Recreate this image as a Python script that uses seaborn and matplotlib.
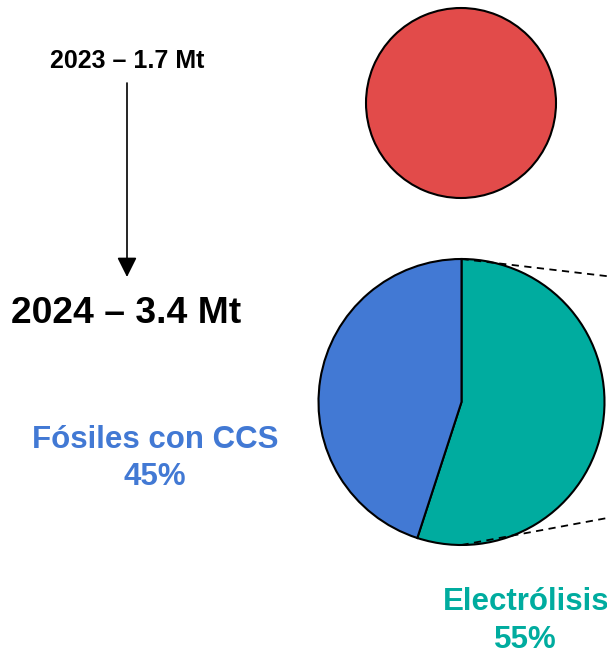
import matplotlib
matplotlib.use("Agg")
import matplotlib.pyplot as plt
import seaborn as sns
from matplotlib.patches import FancyArrowPatch

# Hydrogen production totals (Mt) and the 2024 split by route
years = ["2023", "2024"]
totals_mt = [1.7, 3.4]
routes = ["Electrólisis", "Fósiles con CCS"]
shares = [55, 45]

sns.set_theme(style="white")
plt.rcParams["font.family"] = ["Liberation Sans", "DejaVu Sans"]

red = "#E24B4A"
teal = "#00AC9F"
blue = "#4279D4"

W, H = 607, 651
fig = plt.figure(figsize=(W / 100, H / 100), dpi=100)
ax = fig.add_axes([0, 0, 1, 1])

def Y(py):
    return H - py

# 2023 total: single full disc
ax.pie([totals_mt[0]], colors=[red], radius=95, center=(461, Y(103)),
       startangle=90, frame=True,
       wedgeprops=dict(edgecolor="black", linewidth=1.5))

# 2024 split
ax.pie(shares, colors=[teal, blue], radius=143, center=(461.5, Y(402)),
       startangle=90, counterclock=False, frame=True,
       wedgeprops=dict(edgecolor="black", linewidth=1.5))

# dashed connectors leading out to the right
ax.plot([461.5, 610], [Y(259), Y(276.5)], ls=(0, (4, 3)), color="black", lw=1.3)
ax.plot([461.5, 610], [Y(545), Y(517.5)], ls=(0, (4, 3)), color="black", lw=1.3)

# year labels and arrow
ax.text(127, Y(68), f"{years[0]} – {totals_mt[0]} Mt", ha="center", va="baseline",
        fontsize=18, fontweight="bold", color="black")
ax.text(126, Y(323), f"{years[1]} – {totals_mt[1]} Mt", ha="center", va="baseline",
        fontsize=26.8, fontweight="bold", color="black")
arrow = FancyArrowPatch((127, Y(83)), (127, Y(277)),
                        arrowstyle="-|>,head_length=0.6,head_width=0.3",
                        mutation_scale=20, shrinkA=0, shrinkB=0,
                        color="black", lw=1.2)
ax.add_patch(arrow)

# route labels
ax.text(155, Y(448), routes[1], ha="center", va="baseline",
        fontsize=22.5, fontweight="bold", color=blue)
ax.text(155, Y(485), f"{shares[1]}%", ha="center", va="baseline",
        fontsize=22.5, fontweight="bold", color=blue)
ax.text(443, Y(610), routes[0], ha="left", va="baseline",
        fontsize=22.5, fontweight="bold", color=teal)
ax.text(525, Y(648), f"{shares[0]}%", ha="center", va="baseline",
        fontsize=22.5, fontweight="bold", color=teal)

ax.set_xlim(0, W)
ax.set_ylim(0, H)
ax.set_aspect("equal")
ax.axis("off")

fig.savefig("out.png", dpi=100, facecolor="white")
